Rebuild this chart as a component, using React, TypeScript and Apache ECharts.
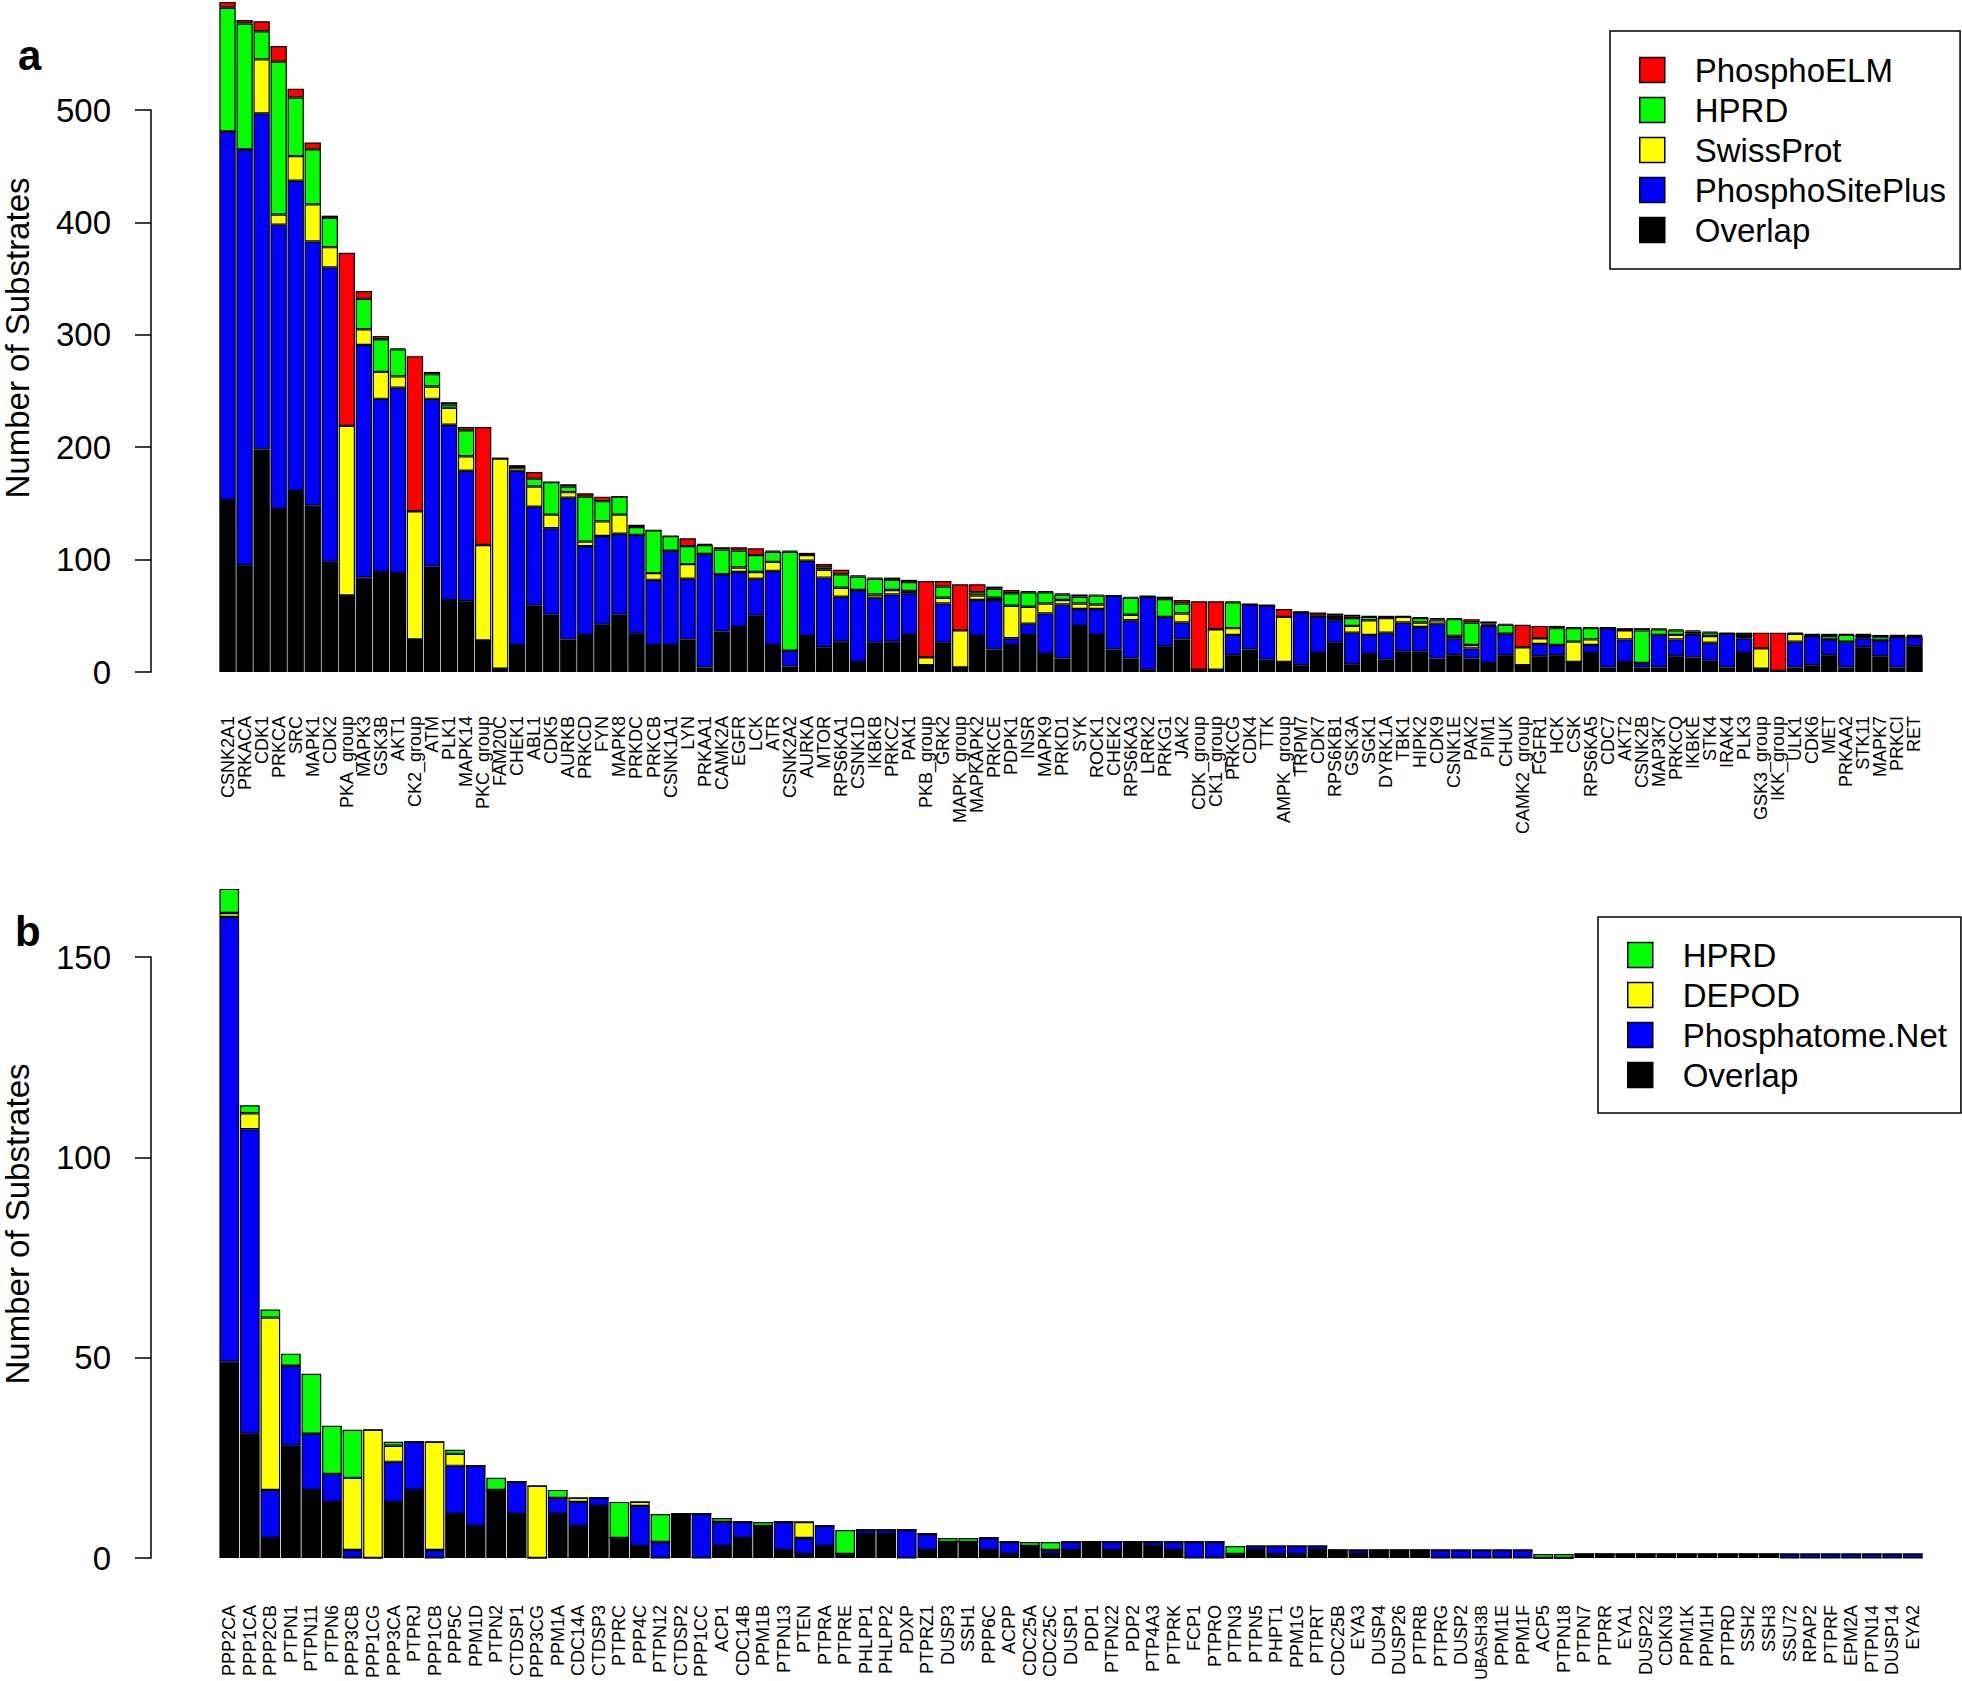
import React, { useEffect, useRef } from "react";
import * as echarts from "echarts";

// ---------- Panel a: kinases ----------
const kinases = [
  "CSNK2A1","PRKACA","CDK1","PRKCA","SRC","MAPK1","CDK2","PKA_group","MAPK3","GSK3B",
  "AKT1","CK2_group","ATM","PLK1","MAPK14","PKC_group","FAM20C","CHEK1","ABL1","CDK5",
  "AURKB","PRKCD","FYN","MAPK8","PRKDC","PRKCB","CSNK1A1","LYN","PRKAA1","CAMK2A",
  "EGFR","LCK","ATR","CSNK2A2","AURKA","MTOR","RPS6KA1","CSNK1D","IKBKB","PRKCZ",
  "PAK1","PKB_group","GRK2","MAPK_group","MAPKAPK2","PRKCE","PDPK1","INSR","MAPK9","PRKD1",
  "SYK","ROCK1","CHEK2","RPS6KA3","LRRK2","PRKG1","JAK2","CDK_group","CK1_group","PRKCG",
  "CDK4","TTK","AMPK_group","TRPM7","CDK7","RPS6KB1","GSK3A","SGK1","DYRK1A","TBK1",
  "HIPK2","CDK9","CSNK1E","PAK2","PIM1","CHUK","CAMK2_group","FGFR1","HCK","CSK",
  "RPS6KA5","CDC7","AKT2","CSNK2B","MAP3K7","PRKCQ","IKBKE","STK4","IRAK4","PLK3",
  "GSK3_group","IKK_group","ULK1","CDK6","MET","PRKAA2","STK11","MAPK7","PRKCI","RET"
];
const kOverlap = [
  153,95,198,145,161,148,98,68,84,89,
  88,29,94,64,63,28,3,24,59,51,
  29,33,42,51,34,24,24,29,4,36,
  40,50,24,5,32,22,27,9,26,27,
  33,6,26,4,32,20,24,33,16,12,
  41,33,20,12,2,23,29,2,2,15,
  20,11,9,6,17,26,7,16,11,18,
  18,12,15,12,8,15,6,14,15,9,
  17,4,9,4,4,14,13,10,4,17,
  3,1,4,6,15,4,22,14,4,23
];
const kPhosphoSitePlus = [
  328,370,299,253,276,235,262,0,207,154,
  165,0,149,156,116,0,0,155,88,77,
  126,79,79,72,88,58,84,54,101,51,
  49,33,66,14,67,62,40,64,40,42,
  37,0,35,0,32,44,6,10,36,48,
  15,23,48,34,65,26,15,0,0,18,
  40,48,0,47,32,20,28,17,24,26,
  22,31,15,9,33,19,0,11,9,0,
  7,35,20,4,29,15,20,16,30,13,
  0,0,23,26,14,23,8,14,27,8
];
const kSwissProt = [
  0,0,48,9,22,33,18,151,14,24,
  10,114,11,15,13,85,187,3,18,12,
  5,4,13,17,0,6,0,13,0,0,
  4,6,8,0,5,7,8,0,3,4,
  2,7,5,33,4,2,29,15,9,4,
  5,4,0,5,0,0,8,0,36,6,
  0,0,40,0,0,2,6,13,13,5,
  4,3,2,3,1,0,16,5,0,18,
  5,0,8,0,0,4,1,6,0,1,
  18,0,7,0,0,0,1,0,0,0
];
const kHPRD = [
  110,112,25,136,52,49,26,0,27,29,
  24,0,11,3,23,0,0,0,7,29,
  5,40,18,16,7,38,13,16,8,22,
  15,15,9,88,0,2,12,12,14,9,
  8,0,10,0,3,8,11,13,10,5,
  6,8,0,15,0,16,9,0,0,23,
  0,0,0,0,1,2,7,3,0,0,
  4,1,15,20,1,8,0,0,15,12,
  10,0,0,29,5,4,2,3,0,2,
  0,0,0,1,3,6,2,3,1,1
];
const kPhosphoELM = [
  5,3,9,14,8,6,2,154,7,3,
  1,138,2,2,3,105,0,2,6,0,
  2,3,4,0,2,0,0,7,1,2,
  3,6,1,1,2,3,4,1,1,2,
  2,68,5,41,7,2,3,1,1,1,
  2,1,0,1,1,2,3,61,25,1,
  1,1,7,1,3,2,3,1,2,1,
  1,1,1,3,2,1,20,11,2,1,
  1,1,2,2,1,1,1,1,1,2,
  14,34,1,1,2,1,1,2,1,1
];

// ---------- Panel b: phosphatases ----------
const phosphatases = [
  "PPP2CA","PPP1CA","PPP2CB","PTPN1","PTPN11","PTPN6","PPP3CB","PPP1CG","PPP3CA","PTPRJ",
  "PPP1CB","PPP5C","PPM1D","PTPN2","CTDSP1","PPP3CG","PPM1A","CDC14A","CTDSP3","PTPRC",
  "PPP4C","PTPN12","CTDSP2","PPP1CC","ACP1","CDC14B","PPM1B","PTPN13","PTEN","PTPRA",
  "PTPRE","PHLPP1","PHLPP2","PDXP","PTPRZ1","DUSP3","SSH1","PPP6C","ACPP","CDC25A",
  "CDC25C","DUSP1","PDP1","PTPN22","PDP2","PTP4A3","PTPRK","FCP1","PTPRO","PTPN3",
  "PTPN5","PHPT1","PPM1G","PTPRT","CDC25B","EYA3","DUSP4","DUSP26","PTPRB","PTPRG",
  "DUSP2","UBASH3B","PPM1E","PPM1F","ACP5","PTPN18","PTPN7","PTPRR","EYA1","DUSP22",
  "CDKN3","PPM1K","PPM1H","PTPRD","SSH2","SSH3","SSU72","RPAP2","PTPRF","EPM2A",
  "PTPN14","DUSP14","EYA2"
];
const pOverlap = [
  49,31,5,28,17,14,0,0,14,17,
  0,11,8,17,11,0,11,8,13,5,
  3,0,11,0,3,5,8,2,1,3,
  1,6,6,0,2,4,4,2,1,3,
  1,2,4,2,4,3,2,0,0,1,
  2,1,1,2,2,1,2,2,2,0,
  0,0,0,0,0,0,1,1,1,1,
  1,1,1,1,1,1,0,0,0,0,
  0,0,0
];
const pPhosphatomeNet = [
  111,76,12,20,14,7,2,0,10,12,
  2,12,15,0,8,0,4,6,2,0,
  10,4,0,11,6,4,0,7,4,5,
  0,1,1,7,4,0,0,3,3,0,
  1,2,0,2,0,1,2,4,4,0,
  1,2,2,1,0,1,0,0,0,2,
  2,2,2,2,0,0,0,0,0,0,
  0,0,0,0,0,0,1,1,1,1,
  1,1,1
];
const pDEPOD = [
  1,4,43,0,0,0,18,32,4,0,
  27,3,0,0,0,18,0,1,0,0,
  1,0,0,0,0,0,0,0,4,0,
  0,0,0,0,0,0,0,0,0,0,
  0,0,0,0,0,0,0,0,0,0,
  0,0,0,0,0,0,0,0,0,0,
  0,0,0,0,0,0,0,0,0,0,
  0,0,0,0,0,0,0,0,0,0,
  0,0,0
];
const pHPRD = [
  6,2,2,3,15,12,12,0,1,0,
  0,1,0,3,0,0,2,0,0,9,
  0,7,0,0,1,0,1,0,0,0,
  6,0,0,0,0,1,1,0,0,1,
  2,0,0,0,0,0,0,0,0,2,
  0,0,0,0,0,0,0,0,0,0,
  0,0,0,0,1,1,0,0,0,0,
  0,0,0,0,0,0,0,0,0,0,
  0,0,0
];

const yTicksA = [0, 100, 200, 300, 400, 500];
const yTicksB = [0, 50, 100, 150];

const legendA = ["PhosphoELM", "HPRD", "SwissProt", "PhosphoSitePlus", "Overlap"];
const legendB = ["HPRD", "DEPOD", "Phosphatome.Net", "Overlap"];

const FONT = "'Liberation Sans', Arial, Helvetica, sans-serif";
const COLORS: Record<string, string> = {
  Overlap: "#000000",
  PhosphoSitePlus: "#0000FF",
  "Phosphatome.Net": "#0000FF",
  SwissProt: "#FFFF00",
  DEPOD: "#FFFF00",
  HPRD: "#00FF00",
  PhosphoELM: "#FF0000",
};

function barSeries(name: string, data: number[], axis: number, stack: string) {
  return {
    type: "bar",
    name,
    data,
    xAxisIndex: axis,
    yAxisIndex: axis,
    stack,
    clip: false,
    barCategoryGap: "4%",
    itemStyle: { color: COLORS[name], borderColor: "#000", borderWidth: 1.2 },
    emphasis: { disabled: true },
  };
}

function yAxisCfg(grid: number, ticks: number[]) {
  return {
    type: "value",
    gridIndex: grid,
    min: ticks[0],
    max: ticks[ticks.length - 1],
    interval: ticks[1] - ticks[0],
    offset: 68,
    axisLine: { show: true, lineStyle: { color: "#000", width: 1.5 } },
    axisTick: { show: true, length: 16, lineStyle: { color: "#000", width: 1.5 } },
    axisLabel: { color: "#000", fontSize: 33, fontFamily: FONT, margin: 40 },
    splitLine: { show: false },
  };
}

// the longest label near the bottom edge is set a touch smaller so it stays on the page
function categoryItems(names: string[]) {
  return names.map((n) =>
    n.length >= 7 ? { value: n, textStyle: { fontSize: 16 } } : n
  );
}

function xAxisCfg(grid: number, data: any[], margin: number) {
  return {
    type: "category",
    gridIndex: grid,
    data,
    boundaryGap: true,
    axisLine: { show: false },
    axisTick: { show: false },
    axisLabel: {
      rotate: 90,
      interval: 0,
      fontSize: 18,
      fontFamily: FONT,
      color: "#000",
      margin,
      hideOverlap: false,
    },
  };
}

function legendCfg(names: string[], left: number, top: number, padV: number) {
  return {
    data: names,
    orient: "vertical",
    left,
    top,
    icon: "rect",
    itemWidth: 25,
    itemHeight: 25,
    itemGap: 0,
    selectedMode: false,
    borderColor: "#000",
    borderWidth: 1.5,
    borderRadius: 0,
    padding: [padV, 14, padV, 29],
    itemStyle: { borderColor: "#000", borderWidth: 1.5 },
    textStyle: {
      fontSize: 33,
      lineHeight: 40,
      fontFamily: FONT,
      color: "#000",
      padding: [0, 0, 0, 25],
    },
  };
}

export default function App() {
  const ref = useRef<HTMLDivElement>(null);

  useEffect(() => {
    document.body.style.margin = "0";
    document.body.style.overflow = "hidden";
    const chart = echarts.init(ref.current!, null, { renderer: "svg" });
    const yTitle = (y: number) => ({
      type: "text",
      x: 17,
      y,
      rotation: Math.PI / 2,
      style: {
        text: "Number of Substrates",
        font: `33px ${FONT}`,
        lineHeight: 33,
        fill: "#000",
        textAlign: "center",
        textVerticalAlign: "middle",
      },
    });
    const option = {
      animation: false,
      backgroundColor: "#ffffff",
      grid: [
        { left: 219, top: 110, width: 1704, height: 562, containLabel: false, outerBoundsMode: "none" },
        { left: 219, top: 957, width: 1704, height: 601, containLabel: false, outerBoundsMode: "none" },
      ],
      xAxis: [xAxisCfg(0, kinases, 44), xAxisCfg(1, categoryItems(phosphatases), 47)],
      yAxis: [yAxisCfg(0, yTicksA), yAxisCfg(1, yTicksB)],
      legend: [legendCfg(legendA, 1610, 31, 19), legendCfg(legendB, 1598, 917, 18)],
      series: [
        barSeries("Overlap", kOverlap, 0, "a"),
        barSeries("PhosphoSitePlus", kPhosphoSitePlus, 0, "a"),
        barSeries("SwissProt", kSwissProt, 0, "a"),
        barSeries("HPRD", kHPRD, 0, "a"),
        barSeries("PhosphoELM", kPhosphoELM, 0, "a"),
        barSeries("Overlap", pOverlap, 1, "b"),
        barSeries("Phosphatome.Net", pPhosphatomeNet, 1, "b"),
        barSeries("DEPOD", pDEPOD, 1, "b"),
        barSeries("HPRD", pHPRD, 1, "b"),
      ],
      graphic: [
        {
          type: "text",
          x: 18,
          y: 55,
          style: { text: "a", font: `bold 42px ${FONT}`, fill: "#000", textAlign: "left", textVerticalAlign: "middle" },
        },
        {
          type: "text",
          x: 15,
          y: 931,
          style: { text: "b", font: `bold 42px ${FONT}`, fill: "#000", textAlign: "left", textVerticalAlign: "middle" },
        },
        yTitle(338),
        yTitle(1224),
      ],
    };
    chart.setOption(option as any);
    return () => chart.dispose();
  }, []);

  return (
    <div
      ref={ref}
      style={{ position: "absolute", left: 0, top: 0, width: 1962, height: 1681, background: "#fff" }}
    />
  );
}
